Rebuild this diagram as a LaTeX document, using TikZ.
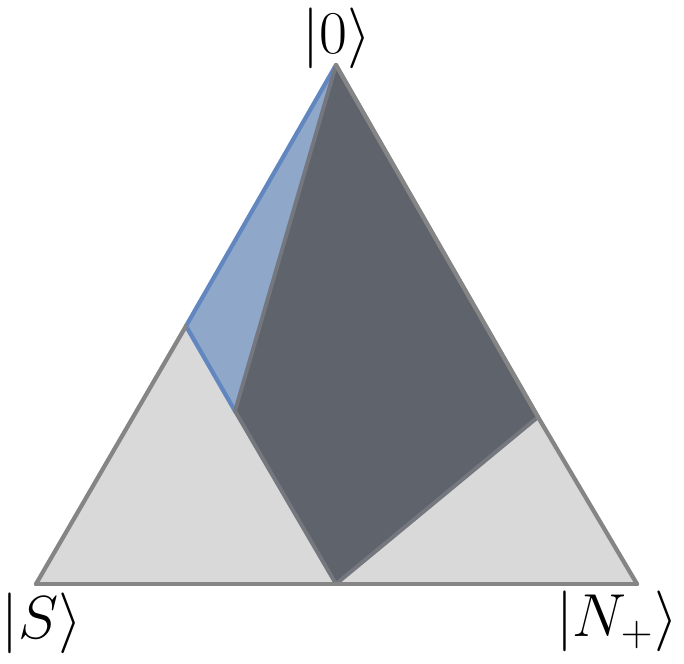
\documentclass[tikz,border=0pt]{standalone}
\usepackage{amsmath, tkz-euclide}
\definecolor{lightfill}{HTML}{D9D9D9}
\definecolor{rimgray}{HTML}{858585}
\definecolor{darkfill}{HTML}{5F636B}
\definecolor{darkrim}{HTML}{74777D}
\definecolor{bluefill}{HTML}{8FA7C8}
\definecolor{bluerim}{HTML}{6287C0}
\begin{document}
\begin{tikzpicture}[line join=round, every node/.style={inner sep=0pt, font=\fontsize{17}{21}\selectfont}]
\useasboundingbox (0,0) rectangle (6.84,6.63);
\tkzDefPoints{3.36/5.98/T, 0.36/0.79/L, 6.37/0.79/R, 1.86/3.37/P, 2.35/2.52/Q, 3.36/0.79/M, 5.38/2.46/K}
\tkzFillPolygon[fill=lightfill](T,L,R)
\tkzFillPolygon[fill=bluefill](T,P,Q)
\tkzDrawSegment[color=bluerim, line width=1.2pt](T,P)
\tkzDrawSegment[color=bluerim, line width=1.2pt](P,Q)
\tkzFillPolygon[fill=darkfill](T,Q,M,K)
\tkzDrawPolygon[color=darkrim, line width=1.1pt](T,Q,M,K)
\tkzDrawSegment[color=rimgray, line width=1.2pt](P,L)
\tkzDrawSegment[color=rimgray, line width=1.2pt](L,R)
\tkzDrawSegment[color=rimgray, line width=1.2pt](R,K)
\tkzDrawSegment[color=rimgray, line width=1.2pt](K,T)
\node (ket0) at (3.37,6.25) {$|0\rangle$};
\node (ketS) at (0.42,0.40) {$|S\rangle$};
\node (ketN) at (6.17,0.42) {$|N_{+}\rangle$};
\end{tikzpicture}
\end{document}
